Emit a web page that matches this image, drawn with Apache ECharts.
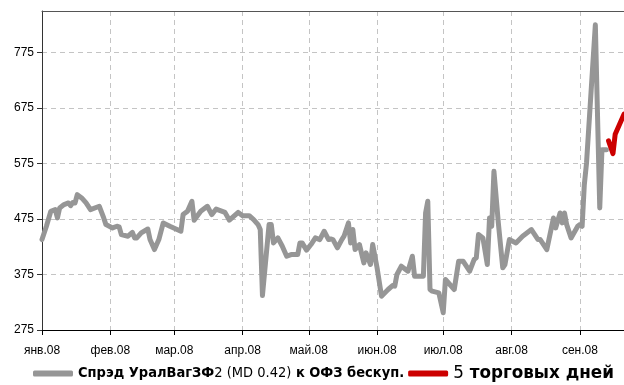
<!DOCTYPE html>
<html><head><meta charset="utf-8">
<script src="https://cdn.jsdelivr.net/npm/echarts@6/dist/echarts.min.js"></script>
<style>html,body{margin:0;padding:0;background:#fff}#c{width:624px;height:385px}</style>
</head><body><div id="c"></div>
<script>
const monthNames = ['янв','фев','мар','апр','май','июн','июл','авг','сен'];
const yTicks = [275, 375, 475, 575, 675, 775];
const spreadDates = ['2008-01-01','2008-01-03','2008-01-05','2008-01-07','2008-01-08','2008-01-09','2008-01-11','2008-01-13','2008-01-14','2008-01-15','2008-01-16','2008-01-17','2008-01-19','2008-01-21','2008-01-23','2008-01-27','2008-01-29','2008-01-30',
'2008-02-02','2008-02-04','2008-02-05','2008-02-06','2008-02-09','2008-02-11','2008-02-12','2008-02-13','2008-02-15','2008-02-18','2008-02-19','2008-02-21','2008-02-23','2008-02-25','2008-02-28',
'2008-03-04','2008-03-05','2008-03-07','2008-03-09','2008-03-10','2008-03-13','2008-03-16','2008-03-18','2008-03-20','2008-03-24','2008-03-26','2008-03-30',
'2008-04-01','2008-04-04','2008-04-06','2008-04-08','2008-04-09','2008-04-10','2008-04-13','2008-04-14','2008-04-15','2008-04-17','2008-04-19','2008-04-21','2008-04-23','2008-04-26','2008-04-27','2008-04-28','2008-04-30',
'2008-05-02','2008-05-04','2008-05-06','2008-05-08','2008-05-10','2008-05-11','2008-05-12','2008-05-14','2008-05-16','2008-05-17','2008-05-19','2008-05-20','2008-05-21','2008-05-22','2008-05-24','2008-05-26','2008-05-27','2008-05-29','2008-05-30',
'2008-06-01','2008-06-03','2008-06-06','2008-06-08','2008-06-09','2008-06-10','2008-06-12','2008-06-15','2008-06-17','2008-06-18','2008-06-21','2008-06-22','2008-06-23','2008-06-24','2008-06-25','2008-06-26','2008-06-29',
'2008-07-01','2008-07-02','2008-07-04','2008-07-06','2008-07-08','2008-07-10','2008-07-13','2008-07-15','2008-07-16','2008-07-17','2008-07-19','2008-07-21','2008-07-22','2008-07-23','2008-07-24','2008-07-26','2008-07-28','2008-07-29','2008-07-31',
'2008-08-03','2008-08-06','2008-08-10','2008-08-13','2008-08-14','2008-08-17','2008-08-20','2008-08-21','2008-08-23','2008-08-24','2008-08-25','2008-08-26','2008-08-28','2008-08-31',
'2008-09-01','2008-09-02','2008-09-03','2008-09-04','2008-09-08','2008-09-10','2008-09-11','2008-09-12','2008-09-13'];
const spreadValues = [438,462,489,492,477,495,501,504,499,505,504,519,513,504,492,498,477,465,
459,462,461,447,444,451,441,441,450,457,438,420,438,468,462,
453,483,489,507,473,489,498,483,493,487,473,487,
481,481,474,465,456,337,465,465,432,441,426,408,411,411,432,432,419,
429,441,438,453,438,439,438,423,438,444,468,432,456,420,429,396,414,393,429,
387,336,348,355,354,375,390,381,408,372,372,372,486,507,348,345,342,
306,366,357,348,399,399,381,402,405,447,441,393,477,462,561,468,387,393,438,
432,444,456,438,438,420,477,459,486,468,486,465,441,462,
465,462,537,576,825,495,600,600,600];
const lastDates = ['2008-09-14','2008-09-16','2008-09-17','2008-09-19','2008-09-21'];
const lastValues = [616,593,628,646,664];

const startDay = Date.UTC(2008,0,1), endDay = Date.UTC(2008,8,21);
const categories = [];
for (let t = startDay; t <= endDay; t += 86400000) {
  const d = new Date(t);
  categories.push(d.getUTCFullYear()+'-'+String(d.getUTCMonth()+1).padStart(2,'0')+'-'+String(d.getUTCDate()).padStart(2,'0'));
}
function align(ds, vs) {
  const arr = categories.map(() => null);
  ds.forEach((d, i) => { const k = categories.indexOf(d); if (k >= 0) arr[k] = vs[i]; });
  return arr;
}
const isMonthStart = (idx, val) => val.slice(8) === '01';
const F = '"Liberation Sans", Arial, sans-serif';
const FC = '"DejaVu Sans Condensed", "Liberation Sans", sans-serif';
const FW = '"DejaVu Sans", "Liberation Sans", sans-serif';
const chart = echarts.init(document.getElementById('c'));
chart.setOption({
  animation: false,
  textStyle: { fontFamily: F },
  grid: { left: 42, right: 0, top: 11, bottom: 55, containLabel: false },
  legend: {
    bottom: 3, left: 33, width: 620, padding: 0, itemWidth: 40, itemHeight: 6, itemGap: 4, icon: 'roundRect',
    textStyle: { fontFamily: FC, fontSize: 14.5, color: '#000',
      rich: {
        b: { fontFamily: FC, fontSize: 14.5, fontWeight: 'bold', color: '#000' },
        n: { fontFamily: FC, fontSize: 14.5, color: '#000' },
        b2: { fontFamily: FW, fontSize: 16.8, fontWeight: 'bold', color: '#000' },
        n2: { fontFamily: FW, fontSize: 16.8, color: '#000' } } },
    formatter: name => name === 'spread' ? '{b|Спрэд УралВагЗФ}{n|2 (MD 0.42)}{b| к ОФЗ бескуп.}' : '{n2|5}{b2| торговых дней}',
    data: ['spread', 'last']
  },
  xAxis: [{
    type: 'category', data: categories, boundaryGap: false,
    axisLine: { lineStyle: { color: '#000', width: 1 } },
    axisTick: { interval: isMonthStart, length: 5, lineStyle: { color: '#000' } },
    axisLabel: { interval: isMonthStart, color: '#000', fontSize: 12, margin: 15, fontFamily: F,
      formatter: v => monthNames[parseInt(v.slice(5,7),10)-1] + '.08' },
    splitLine: { show: true, interval: isMonthStart, lineStyle: { color: '#c4c4c4', type: [5,4], width: 1 } }
  }, {
    type: 'category', data: categories, boundaryGap: false, position: 'top',
    axisLine: { lineStyle: { color: '#555', width: 1 } },
    axisTick: { show: false }, axisLabel: { show: false }, splitLine: { show: false }
  }],
  yAxis: {
    type: 'value', min: yTicks[0], max: 850, interval: 100,
    axisLine: { show: true, lineStyle: { color: '#333' } },
    axisTick: { show: true, length: 5, lineStyle: { color: '#333' } },
    axisLabel: { color: '#000', fontSize: 12, margin: 8, showMaxLabel: false, fontFamily: F },
    splitLine: { show: true, lineStyle: { color: '#c4c4c4', type: [5,4], width: 1 } }
  },
  series: [{
    name: 'spread', type: 'line', data: align(spreadDates, spreadValues), connectNulls: true,
    showSymbol: false, symbol: 'none', color: '#969696',
    lineStyle: { color: '#969696', width: 5, cap: 'round', join: 'round' }
  }, {
    name: 'last', type: 'line', data: align(lastDates, lastValues), connectNulls: true,
    showSymbol: false, symbol: 'none', color: '#cc0000',
    lineStyle: { color: '#cc0000', width: 5, cap: 'round', join: 'round' }
  }]
});
</script></body></html>
